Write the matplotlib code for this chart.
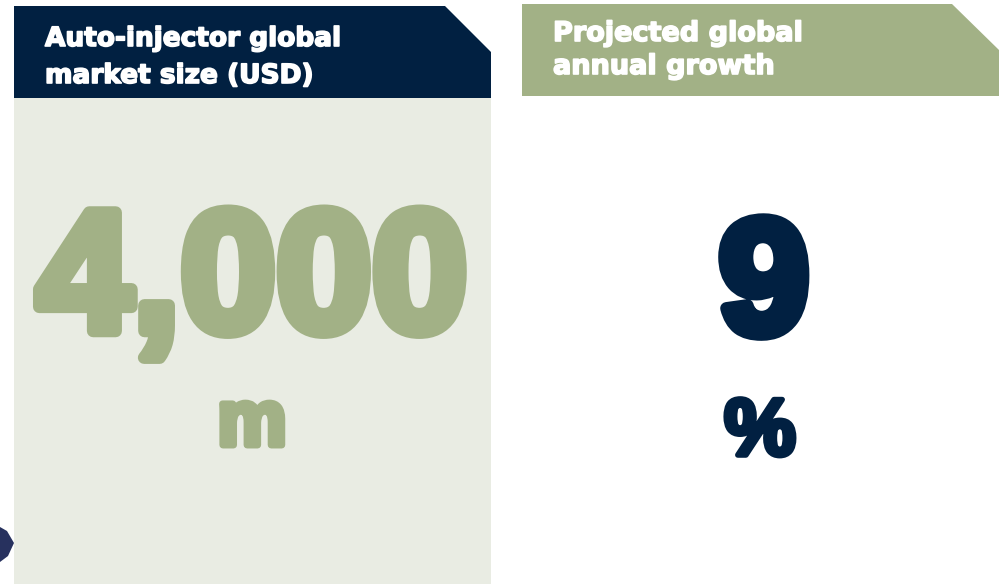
import matplotlib.pyplot as plt
from matplotlib.patches import Polygon, Rectangle
import matplotlib.patheffects as pe

# figures shown on the two cards
headers = ['Auto-injector global\nmarket size (USD)', 'Projected global\nannual growth']
market_size = '4,000'
market_unit = 'm'
growth = '9'
growth_unit = '%'

navy = '#012041'
sage = '#A2B186'
pale = '#E9ECE3'

fig = plt.figure(figsize=(10.07, 5.84), dpi=100)
ax = fig.add_axes([0, 0, 1, 1])
ax.set_xlim(0, 1007)
ax.set_ylim(584, 0)
ax.axis('off')

# left card
ax.add_patch(Rectangle((14, 98), 477, 490, color=pale, lw=0))
ax.add_patch(Polygon([(14, 6), (445, 6), (491, 52), (491, 98), (14, 98)], closed=True, color=navy, lw=0))
# right card header
ax.add_patch(Polygon([(522, 4), (952, 4), (999, 50), (999, 96), (522, 96)], closed=True, color=sage, lw=0))

# tip of a device peeking in at the bottom left
ax.add_patch(Polygon([(0, 527), (7, 531), (14, 543), (8, 556), (0, 562)], closed=True,
                     color='#27315E', lw=0))

hfont = 'DejaVu Sans'
font = 'Liberation Sans'
hstroke = [pe.withStroke(linewidth=1.2, foreground='white')]

l1, l2 = headers[0].split('\n')
ax.text(45, 46, l1, color='white', fontsize=19, fontweight='bold', family=hfont,
        va='baseline', path_effects=hstroke)
ax.text(45, 83, l2, color='white', fontsize=19, fontweight='bold', family=hfont,
        va='baseline', path_effects=hstroke)
r1, r2 = headers[1].split('\n')
ax.text(553, 41, r1, color='white', fontsize=19.5, fontweight='bold', family=hfont,
        va='baseline', path_effects=hstroke)
ax.text(553, 74, r2, color='white', fontsize=19.5, fontweight='bold', family=hfont,
        va='baseline', path_effects=hstroke)

ax.text(252, 331, market_size, color=sage, fontsize=124, fontweight='bold', family=font,
        ha='center', va='baseline', path_effects=[pe.withStroke(linewidth=9, foreground=sage)])
ax.text(252, 445, market_unit, color=sage, fontsize=56, fontweight='bold', family=font,
        ha='center', va='baseline', path_effects=[pe.withStroke(linewidth=5, foreground=sage)])

ax.text(764, 333, growth, color=navy, fontsize=117, fontweight='bold', family=font,
        ha='center', va='baseline', path_effects=[pe.withStroke(linewidth=9, foreground=navy)])
ax.text(760, 455, growth_unit, color=navy, fontsize=58, fontweight='bold', family=font,
        ha='center', va='baseline', path_effects=[pe.withStroke(linewidth=4, foreground=navy)])

fig.savefig('out.png', dpi=100)
